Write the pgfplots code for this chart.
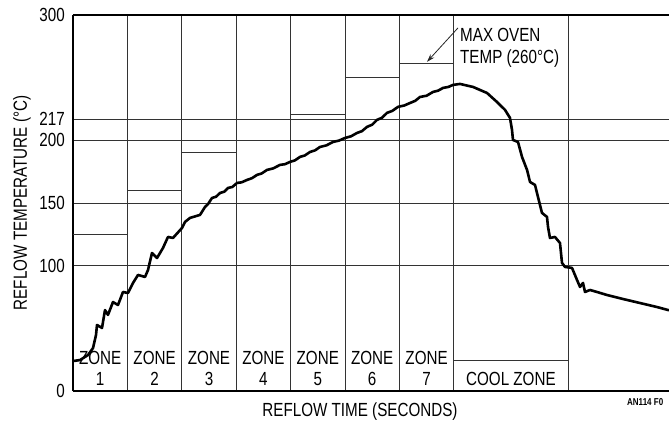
\documentclass[border=0pt]{standalone}
\usepackage{pgfplots}
\pgfplotsset{compat=1.18}
\usepackage{fontspec}
\setmainfont{Liberation Sans}[FakeStretch=0.8]
\usetikzlibrary{arrows.meta}
\begin{document}
\begin{tikzpicture}[font=\fontsize{19bp}{22bp}\selectfont]
\begin{axis}[
  at={(0,0)}, anchor=origin,
  scale only axis, width=596bp, height=376bp,
  xmin=0, xmax=10.956, ymin=0, ymax=300,
  axis y line*=left,
  axis line style={line width=1.2bp},
  xtick={1,2,3,4,5,6,7,9.1}, xticklabels={},
  ytick={0,100,150,200,217,300},
  major tick length=0pt,
  xmajorgrids, ymajorgrids,
  grid style={black!80, line width=0.8bp},
  /pgf/number format/assume math mode=true,
  yticklabel style={inner sep=0pt, anchor=east, xshift=-8bp},
  ylabel={REFLOW TEMPERATURE (°C)},
  ylabel style={at={(axis description cs:-0.0856,0.5)}, anchor=center},
  xlabel={REFLOW TIME (SECONDS)},
  xlabel style={at={(axis description cs:0.4815,-0.056)}, anchor=center},
  clip=false,
]
% oven zone temperatures
\addplot[black!80, line width=0.8bp, unbounded coords=jump] coordinates {
 (0,125)(1,125) (1,nan)
 (1,160)(2,160) (2,nan)
 (2,190)(3,190) (3,nan)
 (4,221)(5,221) (5,nan)
 (5,250.5)(6,250.5) (6,nan)
 (6,261)(7,261) (7,nan)
 (7,24.5)(9.1,24.5)
};
% labels
\foreach \i in {1,...,7} {
  \edef\temp{\noexpand\node[anchor=base] at (axis cs:\i-0.5,21) {ZONE};
    \noexpand\node[anchor=base] at (axis cs:\i-0.5,4.5) {\i};}
  \temp
}
\node[anchor=base] at (axis cs:8.05,4.5) {COOL ZONE};
\node[anchor=base west, inner sep=0pt] at (axis cs:7.114,278.5) {MAX OVEN};
\node[anchor=base west, inner sep=0pt] at (axis cs:7.114,261) {TEMP (260°C)};
\draw[black!85, line width=0.8bp, -{Stealth[length=8bp,width=5bp]}] (axis cs:7.077,289.7) -- (axis cs:6.507,262.6);
\node[anchor=west, inner sep=0pt, font=\fontsize{10bp}{11bp}\selectfont\bfseries] at (axis description cs:0.9295,-0.029) {AN114 F0};
% measured profile
\addplot[black, line width=2.6bp, line join=round] table {
x y
0 23.9
0.129 24.7
0.276 28.7
0.368 34.3
0.423 44.7
0.441 52.7
0.533 50.3
0.588 64.6
0.643 60.7
0.735 71.0
0.827 68.6
0.919 79.0
1.011 78.2
1.103 86.2
1.195 92.6
1.324 91.0
1.379 96.6
1.452 110.1
1.544 106.1
1.654 114.1
1.746 122.9
1.838 122.1
2.004 130.1
2.059 134.9
2.151 138.1
2.335 140.5
2.426 146.8
2.480 149.0
2.555 154.0
2.630 155.0
2.702 158.0
2.780 159.0
2.849 162.0
2.930 162.8
3.015 166.0
3.100 166.5
3.199 168.4
3.290 169.8
3.382 172.4
3.470 173.6
3.566 176.4
3.680 177.6
3.805 180.4
3.900 181.0
3.989 182.8
4.080 184.0
4.173 186.8
4.260 187.9
4.357 190.7
4.450 192.0
4.540 194.7
4.660 196.0
4.779 198.7
4.890 199.8
5.000 201.9
5.110 203.2
5.221 205.9
5.310 207.3
5.404 210.7
5.500 212.5
5.588 216.3
5.680 218.0
5.772 221.9
5.870 223.5
5.974 226.7
6.090 227.8
6.195 229.8
6.290 231.5
6.379 234.6
6.500 235.6
6.618 238.6
6.710 239.6
6.801 241.8
6.900 242.6
6.985 244.2
7.114 245.0
7.353 242.6
7.610 237.8
7.794 230.6
7.941 224.3
8.033 217.9
8.070 208.3
8.088 200.3
8.180 198.7
8.254 186.8
8.346 176.4
8.401 166.8
8.493 164.4
8.548 154.8
8.621 142.1
8.713 138.9
8.732 130.9
8.768 122.1
8.860 122.9
8.952 118.1
8.989 102.2
9.044 99.0
9.173 98.2
9.265 88.6
9.320 83.0
9.375 86.2
9.412 79.0
9.504 80.6
9.632 79.0
9.816 76.6
10.110 73.4
10.423 70.2
10.735 67.0
10.956 64.4
};
\end{axis}
\pgfresetboundingbox
\path[use as bounding box] (-73bp,-33bp) rectangle (596bp,391bp);
\end{tikzpicture}
\end{document}
